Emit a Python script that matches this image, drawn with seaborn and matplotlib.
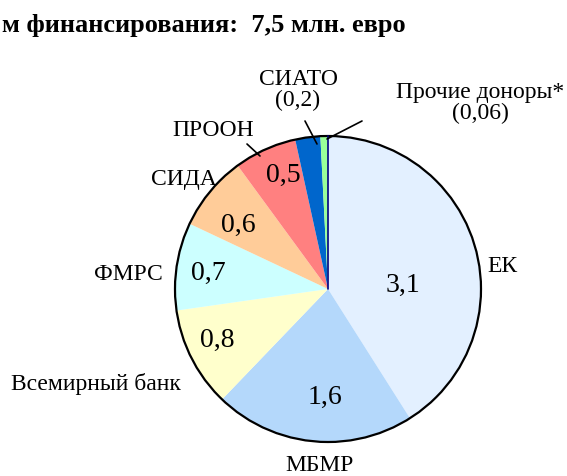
import matplotlib
matplotlib.use("Agg")
import matplotlib.pyplot as plt
import seaborn as sns
from matplotlib.patches import Circle

# data
donors = ["ЕК", "МБМР", "Всемирный банк", "ФМРС", "СИДА", "ПРООН", "СИАТО", "Прочие доноры*"]
amounts = [3.1, 1.6, 0.8, 0.7, 0.6, 0.5, 0.2, 0.06]
value_text = ["3,1", "1,6", "0,8", "0,7", "0,6", "0,5", "", ""]
outer_text = ["ЕК", "МБМР", "Всемирный банк", "ФМРС", "СИДА", "ПРООН",
              "СИАТО\n(0,2)", "Прочие доноры*\n(0,06)"]
colors = ["#E3F0FF", "#B4D8FB", "#FFFFCC", "#CCFFFF", "#FFCC99", "#FF8080", "#0066CC", "#99FF99"]
title = "м финансирования:  7,5 млн. евро"

sns.set_style("white")
plt.rcParams["font.family"] = ["Liberation Serif", "DejaVu Serif"]
plt.rcParams["text.color"] = "black"

W, H = 567, 477
fig = plt.figure(figsize=(W / 100, H / 100), dpi=100)
ax = fig.add_axes([0, 0, 1, 1])

cx, cy, r = 328, H - 290, 153
pal = sns.color_palette(colors)
ax.pie(amounts, colors=pal, startangle=90, counterclock=False,
       center=(cx, cy), radius=r, wedgeprops=dict(linewidth=0), frame=True)
ax.set_xlim(0, W)
ax.set_ylim(0, H)
ax.set_aspect("equal")
ax.axis("off")
ax.add_patch(Circle((cx, cy), r, fill=False, edgecolor="black", lw=1.6))
# thin dark edge at the start of the first slice
ax.plot([cx, cx], [cy, cy + r], color="#000080", lw=1.2)

# value labels inside the slices (pixel positions)
value_pos = [(403, 285), (325, 397), (217, 340), (208, 273), (238, 225), (283, 175), None, None]
for txt, pos in zip(value_text, value_pos):
    if pos:
        ax.text(pos[0], H - pos[1], txt, ha="center", va="center", fontsize=20)

# outer labels
outer_pos = [(502, 266), (320, 466), (96, 384), (128, 274), (184, 180), (213, 131),
             (298, 90), (480, 103)]
for txt, pos in zip(outer_text, outer_pos):
    ax.text(pos[0], H - pos[1], txt, ha="center", va="center", fontsize=17,
            linespacing=0.95)

# leader lines
leaders = [((247, 145), (260, 157)), ((305, 122), (317, 145)), ((362, 122), (327, 140))]
for (x0, y0), (x1, y1) in leaders:
    ax.plot([x0, x1], [H - y0, H - y1], color="black", lw=1.2)

fig.text(2 / W, 1 - 32 / H, title, ha="left", va="baseline", fontsize=19,
         fontweight="bold")

fig.savefig("out.png", dpi=100)
